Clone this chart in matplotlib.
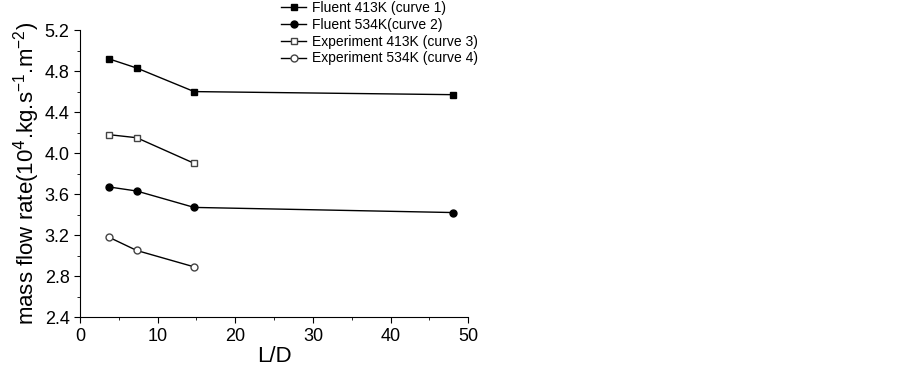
import matplotlib.pyplot as plt
from matplotlib.ticker import MultipleLocator

plt.rcParams['font.family'] = ['Liberation Sans', 'DejaVu Sans']

# L/D values
ld_fluent = [3.7, 7.3, 14.7, 48.0]
ld_exp = [3.7, 7.3, 14.7]

fluent_413 = [4.92, 4.83, 4.60, 4.57]
fluent_534 = [3.67, 3.63, 3.47, 3.42]
exp_413 = [4.18, 4.15, 3.90]
exp_534 = [3.18, 3.05, 2.89]

fig = plt.figure(figsize=(9.03, 3.67), dpi=100)
ax = fig.add_axes([0.0886, 0.136, 0.43, 0.782])

ax.plot(ld_fluent, fluent_413, '-s', color='black', lw=1, ms=5, label='Fluent 413K (curve 1)')
ax.plot(ld_fluent, fluent_534, '-o', color='black', lw=1, ms=5, label='Fluent 534K(curve 2)')
ax.plot(ld_exp, exp_413, '-s', color='black', lw=1, ms=5, mfc='white', mec='#444444', label='Experiment 413K (curve 3)')
ax.plot(ld_exp, exp_534, '-o', color='black', lw=1, ms=5, mfc='white', mec='#444444', label='Experiment 534K (curve 4)')

ax.set_xlim(0, 50)
ax.set_ylim(2.4, 5.2)
ax.xaxis.set_major_locator(MultipleLocator(10))
ax.xaxis.set_minor_locator(MultipleLocator(5))
ax.yaxis.set_major_locator(MultipleLocator(0.4))
ax.yaxis.set_minor_locator(MultipleLocator(0.2))
ax.yaxis.set_major_formatter(plt.FormatStrFormatter('%.1f'))
ax.spines['top'].set_visible(False)
ax.spines['right'].set_visible(False)
ax.tick_params(which='both', direction='out', labelsize=13)
ax.tick_params(which='major', length=4)
ax.tick_params(which='minor', length=2.5)

ax.set_xlabel('L/D', fontsize=16, labelpad=1)
ax.set_ylabel('mass flow rate(10$^4$.kg.s$^\\mathregular{-1}$.m$^\\mathregular{-2}$)', fontsize=16, labelpad=2)

ax.legend(loc='upper left', bbox_to_anchor=(0.50, 1.125), frameon=False, fontsize=10,
          handlelength=1.8, labelspacing=0.2, handletextpad=0.4, borderpad=0)

fig.savefig('out.png', dpi=100)
